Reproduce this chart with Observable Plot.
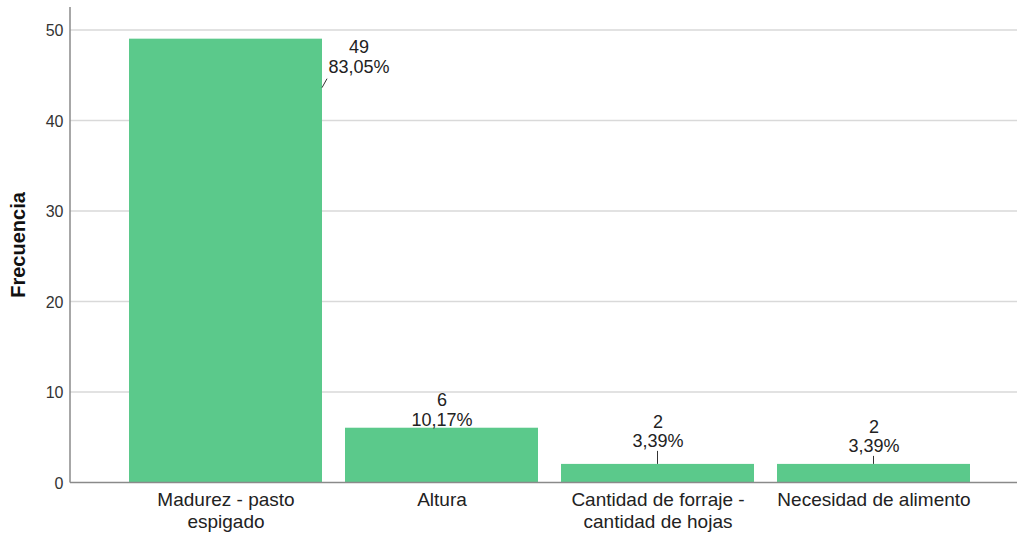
<!DOCTYPE html>
<html><head><meta charset="utf-8">
<script src="https://cdn.jsdelivr.net/npm/d3@7"></script>
<script src="https://cdn.jsdelivr.net/npm/@observablehq/plot@0.6"></script>
<style>
body{margin:0;background:#fff;}
#chart svg{font-family:"Liberation Sans",Arial,sans-serif;}
</style>
</head><body><div id="chart"></div>
<script>
// ---- data ----
const categories = ["Madurez - pasto espigado", "Altura", "Cantidad de forraje - cantidad de hojas", "Necesidad de alimento"];
const tickLabels = ["Madurez - pasto\nespigado", "Altura", "Cantidad de forraje -\ncantidad de hojas", "Necesidad de alimento"];
const counts = [49, 6, 2, 2];
const percents = ["83,05%", "10,17%", "3,39%", "3,39%"];
const yTicks = [0, 10, 20, 30, 40, 50];
const yLabel = "Frecuencia";

const data = categories.map((c, i) => ({category: c, count: counts[i], pct: percents[i], tick: tickLabels[i]}));

// ---- layout (pixels) ----
const labelOffsets = [[133, 17.5], [0, -18.5], [0, -33], [0, -28]];
const leaders = [[96.5, 49, 101.5, 40], null, [0, 0, 0, -13], [0, 0, 0, -8]];
const barColor = "#5bc98b";

const labelMarks = data.map((d, i) => Plot.text([d], {
  x: "category", y: "count",
  text: d => `${d.count}\n${d.pct}`,
  dx: labelOffsets[i][0], dy: labelOffsets[i][1],
  lineAnchor: "middle", lineHeight: 1.08,
  fontSize: 18, fill: "#222"
}));

function bandwidthOf(scales) {
  const sx = scales.x;
  if (sx && typeof sx.bandwidth === "function") return sx.bandwidth();
  if (sx && typeof sx.bandwidth === "number") return sx.bandwidth;
  if (scales.scales && scales.scales.x && typeof scales.scales.x.bandwidth === "number") return scales.scales.x.bandwidth;
  return 0;
}

const leaderMark = Plot.dot(data, {
  x: "category", y: "count", r: 0,
  render: (index, scales, values) => {
    const g = d3.create("svg:g");
    const half = bandwidthOf(scales) / 2;
    for (const i of index) {
      const L = leaders[i];
      if (!L) continue;
      const cx = values.x[i] + half, cy = values.y[i];
      g.append("line")
        .attr("x1", cx + L[0]).attr("y1", cy + L[1])
        .attr("x2", cx + L[2]).attr("y2", cy + L[3])
        .attr("stroke", "#333").attr("stroke-width", 1);
    }
    return g.node();
  }
});

const leftAxisLine = (index, scales, values, dimensions) => {
  const {marginLeft, marginTop, height, marginBottom} = dimensions;
  const g = d3.create("svg:g");
  g.append("line")
    .attr("x1", marginLeft).attr("x2", marginLeft)
    .attr("y1", marginTop).attr("y2", height - marginBottom + 0.5)
    .attr("stroke", "#8a8a8a").attr("stroke-width", 1.5);
  return g.node();
};

const chart = Plot.plot({
  width: 1017,
  height: 535,
  marginLeft: 70,
  marginRight: 0,
  marginTop: 7,
  marginBottom: 53,
  x: {domain: categories, paddingInner: 0.1065, paddingOuter: 0.245, align: 0.557, axis: null},
  y: {domain: [0, 52.5], axis: null},
  marks: [
    Plot.ruleY(yTicks.filter(d => d > 0), {stroke: "#d9d9d9", strokeWidth: 1.5}),
    Plot.barY(data, {x: "category", y: "count", fill: barColor}),
    Plot.ruleY([0], {stroke: "#8a8a8a", strokeWidth: 1.5}),
    leftAxisLine,
    Plot.text(yTicks, {y: d => d, frameAnchor: "left", dx: -7, dy: 1, textAnchor: "end", text: d => String(d), fontSize: 16, fill: "#333"}),
    Plot.text([yLabel], {frameAnchor: "left", dx: -52, rotate: -90, textAnchor: "middle", text: d => d, fontSize: 20, fontWeight: "bold", fill: "#111"}),
    Plot.text(data, {x: "category", y: 0, text: "tick", dy: 8, lineAnchor: "top", lineHeight: 1.15, fontSize: 19, fill: "#222"}),
    ...labelMarks,
    leaderMark
  ]
});
document.getElementById("chart").append(chart);
</script>
</body></html>
